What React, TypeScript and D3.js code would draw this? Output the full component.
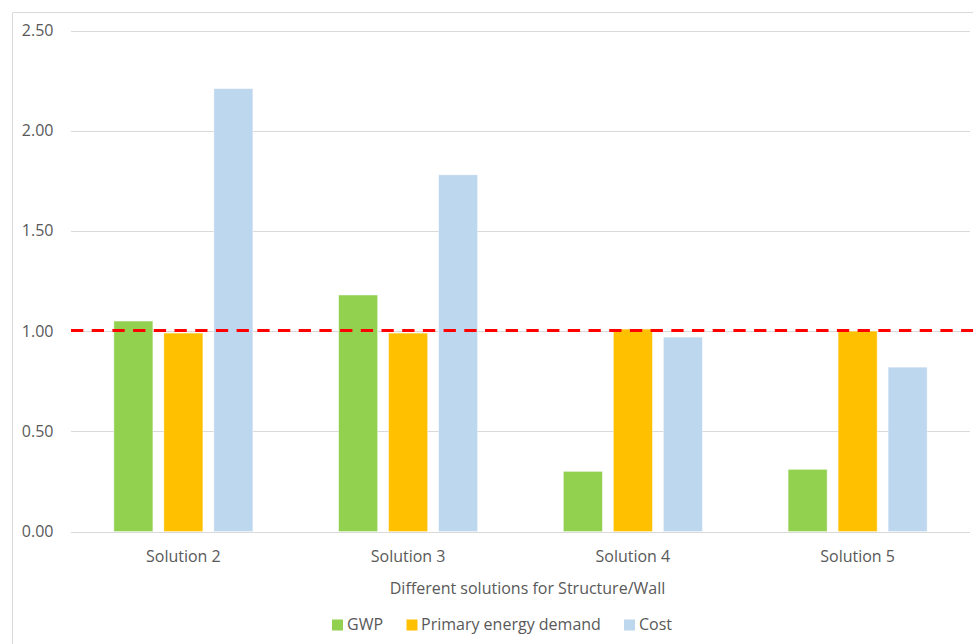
import React from "react";
import * as d3 from "d3";

// Normalised indicators per structural/wall solution (reference = 1.00)
const categories = ["Solution 2", "Solution 3", "Solution 4", "Solution 5"];
const seriesNames = ["GWP", "Primary energy demand", "Cost"];
const gwp = [1.05, 1.18, 0.3, 0.31];
const primaryEnergy = [0.99, 0.99, 1.01, 1.0];
const cost = [2.21, 1.78, 0.97, 0.82];
const seriesColors = ["#92d050", "#ffc000", "#bdd7ee"];
const yTicks = [0, 0.5, 1.0, 1.5, 2.0, 2.5];
const referenceLevel = 1.0;
const xAxisTitle = "Different solutions for Structure/Wall";

const W = 973;
const H = 644;
const FONT = "'Open Sans', Calibri, sans-serif";
const TEXT = "#595959";
const GRID = "#d9d9d9";
const FS = 16;

export default function App() {
  const plot = { left: 71, right: 970, top: 30.5, bottom: 531.5 };
  const x = d3.scaleBand<string>().domain(categories).range([plot.left, plot.right]).paddingInner(0).paddingOuter(0);
  const barW = 39;
  const gap = 11;
  const groupW = seriesNames.length * barW + (seriesNames.length - 1) * gap;
  const y = d3.scaleLinear().domain([0, 2.5]).range([plot.bottom, plot.top]);
  const values = [gwp, primaryEnergy, cost];

  // legend layout
  const legendItems = [
    { name: seriesNames[0], sx: 332, tx: 347 },
    { name: seriesNames[1], sx: 406.5, tx: 421 },
    { name: seriesNames[2], sx: 624, tx: 639 },
  ];

  const refY = Math.round(y(referenceLevel)) - 0.5;

  return (
    <svg
      width={W}
      height={H}
      style={{ position: "absolute", left: 0, top: 0, background: "#fff" }}
      fontFamily={FONT}
    >
      {/* chart frame */}
      <path d={`M12.5,${H} V12.5 H${W}`} fill="none" stroke={GRID} strokeWidth={1} />

      {/* gridlines */}
      {yTicks.map((t) => (
        <line
          key={t}
          x1={plot.left}
          x2={plot.right}
          y1={Math.round(y(t)) + 0.5}
          y2={Math.round(y(t)) + 0.5}
          stroke={GRID}
          strokeWidth={1}
        />
      ))}

      {/* y tick labels */}
      {yTicks.map((t) => (
        <text
          key={"l" + t}
          x={53.5}
          y={y(t) + 5.5}
          textAnchor="end"
          fontSize={FS}
          fill={TEXT}
        >
          {d3.format(".2f")(t)}
        </text>
      ))}

      {/* bars */}
      {categories.map((c, ci) => {
        const x0 = (x(c) as number) + (x.bandwidth() - groupW) / 2;
        return values.map((vals, si) => (
          <rect
            key={c + si}
            x={x0 + si * (barW + gap)}
            y={y(vals[ci])}
            width={barW}
            height={y(0) - y(vals[ci])}
            fill={seriesColors[si]}
            stroke="#ffffff"
            strokeOpacity={0.5}
            strokeWidth={0.8}
          />
        ));
      })}

      {/* reference line */}
      <line
        x1={plot.left}
        x2={W}
        y1={refY}
        y2={refY}
        stroke="#ff0000"
        strokeWidth={3}
        strokeDasharray="12.3,8.4"
      />

      {/* category labels */}
      {categories.map((c) => (
        <text
          key={"c" + c}
          x={(x(c) as number) + x.bandwidth() / 2}
          y={561.5}
          textAnchor="middle"
          fontSize={FS}
          fill={TEXT}
        >
          {c}
        </text>
      ))}

      {/* axis title */}
      <text x={527.5} y={594} textAnchor="middle" fontSize={FS} fill={TEXT}>
        {xAxisTitle}
      </text>

      {/* legend */}
      {legendItems.map((l, i) => (
        <g key={l.name}>
          <rect x={l.sx} y={619.5} width={11} height={11} fill={seriesColors[i]} />
          <text x={l.tx} y={630} fontSize={FS} fill={TEXT}>
            {l.name}
          </text>
        </g>
      ))}
    </svg>
  );
}
